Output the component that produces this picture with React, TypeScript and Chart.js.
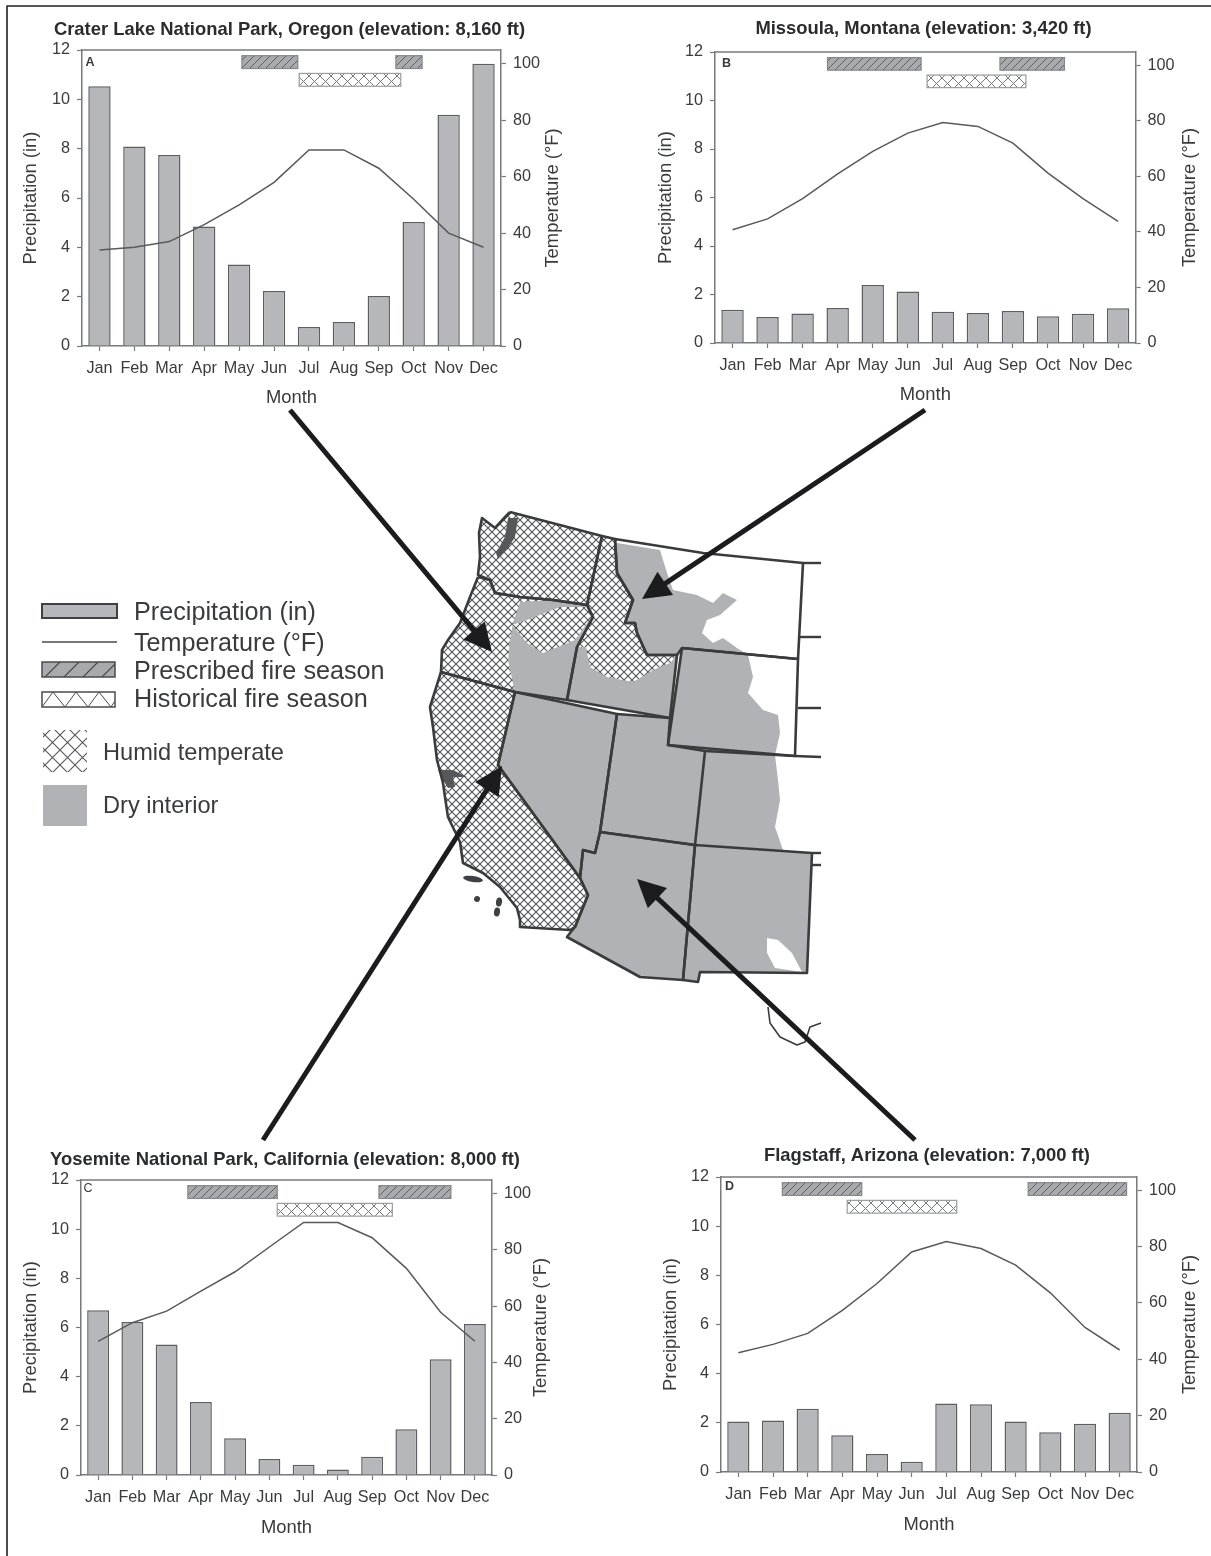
import React, { useEffect, useRef } from "react";
import { Chart, registerables } from "chart.js";

Chart.register(...registerables);

// ---------- chart data ----------
const months = ["Jan", "Feb", "Mar", "Apr", "May", "Jun", "Jul", "Aug", "Sep", "Oct", "Nov", "Dec"];
const precipTicks = [0, 2, 4, 6, 8, 10, 12];
const tempTicks = [0, 20, 40, 60, 80, 100];

const precipCrater = [10.53, 8.09, 7.74, 4.84, 3.3, 2.23, 0.77, 0.97, 2.03, 5.03, 9.38, 11.44];
const tempCrater = [34, 35, 37, 43, 50, 58, 69.5, 69.5, 63, 52, 40, 35];
const precipMissoula = [1.37, 1.07, 1.22, 1.44, 2.39, 2.12, 1.29, 1.24, 1.32, 1.1, 1.21, 1.43];
const tempMissoula = [40.8, 44.7, 52, 60.9, 69, 75.6, 79.4, 78, 72, 61.2, 52, 43.8];
const precipYosemite = [6.7, 6.22, 5.31, 2.97, 1.49, 0.65, 0.42, 0.22, 0.74, 1.86, 4.71, 6.14];
const tempYosemite = [47.5, 54.1, 58.2, 65.3, 72.2, 81, 89.7, 89.7, 84.3, 73.4, 57.8, 47.5];
const precipFlagstaff = [2.05, 2.1, 2.57, 1.5, 0.73, 0.42, 2.79, 2.76, 2.05, 1.62, 1.96, 2.41];
const tempFlagstaff = [42.3, 45.3, 49.2, 57.4, 66.9, 78.1, 81.8, 79.3, 73.4, 63.6, 51.3, 43.3];

// fire seasons: [start, end] in month-axis units (0 = Jan)
const prescribedCrater = [[4.08, 5.68], [8.49, 9.24]];
const historicalCrater = [[5.72, 8.63]];
const prescribedMissoula = [[2.71, 5.38], [7.63, 9.47]];
const historicalMissoula = [[5.55, 8.37]];
const prescribedYosemite = [[2.62, 5.23], [8.2, 10.3]];
const historicalYosemite = [[5.23, 8.59]];
const prescribedFlagstaff = [[1.27, 3.56], [8.36, 11.2]];
const historicalFlagstaff = [[3.14, 6.3]];

const prescribedBand = [11.25, 11.77];
const historicalBand = [10.53, 11.05];

// ---------- map data (page-scaled map units) ----------
const washington = [[510, 512], [602, 536], [587, 605], [553, 600], [520, 597], [495, 593], [490, 580], [478, 575], [480, 557], [479, 533], [482, 518], [495, 528], [507, 515]];
const oregon = [[478, 577], [490, 580], [495, 593], [520, 597], [553, 600], [587, 605], [593, 617], [577, 647], [567, 700], [515, 692], [441, 672], [442, 650], [448, 640], [460, 623], [470, 597]];
const idaho = [[602, 536], [615, 539], [617, 573], [633, 600], [625, 623], [635, 623], [637, 633], [647, 655], [677, 655], [670, 718], [567, 700], [577, 647], [593, 617], [587, 605]];
const montana = [[615, 539], [703, 553], [803, 563], [798, 659], [682, 648], [677, 655], [647, 655], [637, 633], [635, 623], [625, 623], [633, 600], [617, 573]];
const wyoming = [[682, 648], [798, 659], [795, 756], [668, 745]];
const nevada = [[515, 692], [617, 714], [600, 832], [595, 853], [583, 850], [580, 878], [498, 765]];
const utah = [[617, 714], [670, 718], [668, 745], [705, 751], [695, 845], [600, 832]];
const colorado = [[705, 751], [795, 756]];
const arizona = [[600, 832], [695, 845], [683, 980], [640, 977], [567, 937], [570, 933], [575, 927], [588, 895], [580, 878], [583, 850], [595, 853]];
const newMexico = [[695, 845], [812, 853], [807, 973], [700, 972], [698, 982], [683, 980]];
const california = [[441, 672], [515, 692], [498, 765], [580, 878], [588, 895], [575, 927], [570, 930], [520, 927], [520, 920], [517, 908], [500, 887], [483, 873], [463, 863], [460, 842], [448, 817], [445, 797], [443, 783], [437, 760], [433, 727], [430, 707]];
const stubs = [
  [[803, 563], [821, 563]],
  [[800, 637], [821, 637]],
  [[798, 708], [821, 708]],
  [[795, 756], [821, 757]],
  [[812, 853], [821, 853]],
  [[812, 865], [821, 865]],
];
const texasCoast = [[768, 1007], [770, 1023], [780, 1037], [797, 1045], [805, 1042], [810, 1027], [821, 1023]];

const dryOregon = [[515, 692], [508, 660], [510, 640], [513, 623], [520, 602], [560, 600], [587, 605], [593, 617], [577, 647], [567, 700]];
const humidBlueMountains = [[512, 625], [527, 620], [560, 607], [587, 607], [593, 615], [575, 640], [543, 653], [527, 643]];
const dryIdaho = [[670, 663], [653, 670], [633, 682], [607, 677], [590, 667], [586, 647], [577, 647], [567, 700], [670, 718], [677, 655]];
const dryMontana = [[617, 543], [660, 550], [667, 573], [673, 590], [697, 595], [713, 603], [723, 593], [737, 600], [720, 615], [707, 620], [702, 633], [713, 643], [723, 638], [737, 648], [748, 655], [682, 648], [678, 655], [647, 655], [637, 633], [635, 623], [625, 623], [633, 600], [617, 573]];
const dryInterior = [[515, 692], [617, 714], [670, 718], [682, 648], [748, 655], [753, 677], [748, 693], [763, 710], [778, 715], [780, 733], [775, 755], [778, 780], [780, 800], [775, 827], [783, 850], [812, 853], [807, 973], [700, 972], [698, 982], [683, 980], [640, 977], [567, 937], [575, 927], [588, 895], [580, 878], [498, 765]];
const whiteNewMexico = [[767, 938], [778, 940], [792, 953], [802, 972], [775, 968], [767, 953]];
const pugetSound = [[508, 518], [518, 518], [515, 537], [508, 548], [498, 559], [496, 553], [505, 537]];
const sfBay = [[438, 770], [453, 770], [467, 777], [453, 777], [455, 787], [448, 788], [443, 780]];
const islands = [[473, 879, 10, 3], [477, 899, 3, 3], [499, 902, 3, 4.5], [497, 912, 3, 4.5]];

const arrowTails = [[290, 410], [925, 410], [263, 1140], [915, 1140]];
const arrowTips = [[492, 652], [642, 599], [502, 766], [637, 879]];
const frameLine = [[1211, 6], [7, 6], [7, 1556]];

const legendLabels = ["Precipitation (in)", "Temperature (°F)", "Prescribed fire season", "Historical fire season"];
const regionLabels = ["Humid temperate", "Dry interior"];

// ---------- styles ----------
const FONT = '"Liberation Sans", Arial, sans-serif';
const TEXT = "#3a3b3d";
const AXIS = "#77797c";
const BAR = "#b6b7ba";
const DRY = "#b0b2b5";

function makeTile(size: number, draw: (c: CanvasRenderingContext2D, s: number) => void) {
  const t = document.createElement("canvas");
  t.width = size;
  t.height = size;
  const c = t.getContext("2d")!;
  draw(c, size);
  return t;
}
function diagonals(c: CanvasRenderingContext2D, s: number, up: boolean, down: boolean) {
  c.beginPath();
  if (up) {
    c.moveTo(-1, s + 1); c.lineTo(s + 1, -1);
    c.moveTo(-s / 2 - 1, s / 2 + 1); c.lineTo(s / 2 + 1, -s / 2 - 1);
    c.moveTo(s / 2 - 1, s + s / 2 + 1); c.lineTo(s + s / 2 + 1, s / 2 - 1);
  }
  if (down) {
    c.moveTo(-1, -1); c.lineTo(s + 1, s + 1);
    c.moveTo(-s / 2 - 1, s / 2 - 1); c.lineTo(s / 2 + 1, s + s / 2 + 1);
    c.moveTo(s / 2 - 1, -s / 2 - 1); c.lineTo(s + s / 2 + 1, s / 2 + 1);
  }
  c.stroke();
}
function hatchPattern(ctx: CanvasRenderingContext2D, size: number, bg: string, fg: string, lw: number, up: boolean, down: boolean) {
  const tile = makeTile(size, (c, s) => {
    c.fillStyle = bg;
    c.fillRect(0, 0, s, s);
    c.strokeStyle = fg;
    c.lineWidth = lw;
    diagonals(c, s, up, down);
  });
  return ctx.createPattern(tile, "repeat")!;
}

type Panel = {
  title: string; letter: string; precip: number[]; temp: number[];
  prescribed: number[][]; historical: number[][];
  plotL: number; plotR: number; plotT: number; plotB: number;
  titleCx: number; titleGap: number; leftTitleX: number; rightTitleX: number; monthGap: number;
  tempMax: number; letterX: number; letterY: number; letterBold: boolean;
};

const panels: Panel[] = [
  {
    title: "Crater Lake National Park, Oregon (elevation: 8,160 ft)", letter: "A",
    precip: precipCrater, temp: tempCrater, prescribed: prescribedCrater, historical: historicalCrater,
    plotL: 82, plotR: 501, plotT: 49.5, plotB: 345, titleCx: 289.5, titleGap: 20.5, leftTitleX: 31, rightTitleX: 553, monthGap: 52,
    tempMax: 104.9, letterX: 90, letterY: 62, letterBold: true,
  },
  {
    title: "Missoula, Montana (elevation: 3,420 ft)", letter: "B",
    precip: precipMissoula, temp: tempMissoula, prescribed: prescribedMissoula, historical: historicalMissoula,
    plotL: 715, plotR: 1136, plotT: 52, plotB: 343.3, titleCx: 923.7, titleGap: 23, leftTitleX: 665.5, rightTitleX: 1190, monthGap: 52,
    tempMax: 104.8, letterX: 726.5, letterY: 64, letterBold: true,
  },
  {
    title: "Yosemite National Park, California (elevation: 8,000 ft)", letter: "C",
    precip: precipYosemite, temp: tempYosemite, prescribed: prescribedYosemite, historical: historicalYosemite,
    plotL: 81, plotR: 492, plotT: 1179.7, plotB: 1475, titleCx: 285, titleGap: 20.5, leftTitleX: 31, rightTitleX: 541, monthGap: 53,
    tempMax: 104.8, letterX: 88, letterY: 1188, letterBold: false,
  },
  {
    title: "Flagstaff, Arizona (elevation: 7,000 ft)", letter: "D",
    precip: precipFlagstaff, temp: tempFlagstaff, prescribed: prescribedFlagstaff, historical: historicalFlagstaff,
    plotL: 721, plotR: 1137, plotT: 1176.7, plotB: 1472, titleCx: 927, titleGap: 21, leftTitleX: 671, rightTitleX: 1190, monthGap: 52.5,
    tempMax: 104.7, letterX: 729.5, letterY: 1186, letterBold: true,
  },
];

const LEFT_W = 70;
const TOP_H = 40;
const BOTTOM_H = 66;
const titleSize = 18.4;
const axisTitleSize = 18.4;
const tickSize = 16.2;

function panelGeometry(p: Panel) {
  const left = p.plotL - LEFT_W;
  const right = 2 * p.titleCx - left;
  return { left, top: p.plotT - TOP_H, width: right - left, height: TOP_H + (p.plotB - p.plotT) + BOTTOM_H, rightW: right - p.plotR };
}

function createPanel(canvas: HTMLCanvasElement, p: Panel) {
  const g = panelGeometry(p);
  canvas.width = Math.round(g.width);
  canvas.height = Math.round(g.height);
  const ctx0 = canvas.getContext("2d")!;
  const prescribedFill = hatchPattern(ctx0, 8, "#a9aaad", "#5c5e61", 1, true, false);
  const historicalFill = hatchPattern(ctx0, 11, "#ffffff", "#77797c", 1, true, true);

  const seasonPlugin = {
    id: "seasons",
    afterDatasetsDraw(chart: any) {
      const { ctx, scales, chartArea } = chart;
      const x = scales.x, y = scales.y;
      const drawBand = (ranges: number[][], band: number[], fill: CanvasPattern, stroke: string) => {
        ranges.forEach(([a, b]) => {
          const xa = x.getPixelForValue(a), xb = x.getPixelForValue(b);
          const yt = y.getPixelForValue(band[1]), yb = y.getPixelForValue(band[0]);
          ctx.save();
          ctx.fillStyle = fill;
          ctx.fillRect(xa, yt, xb - xa, yb - yt);
          ctx.strokeStyle = stroke;
          ctx.lineWidth = 1.2;
          ctx.strokeRect(xa, yt, xb - xa, yb - yt);
          ctx.restore();
        });
      };
      drawBand(p.prescribed, prescribedBand, prescribedFill, "#85878a");
      drawBand(p.historical, historicalBand, historicalFill, "#9a9c9f");

      ctx.save();
      // top of the plot frame
      ctx.strokeStyle = AXIS;
      ctx.lineWidth = 1.5;
      ctx.beginPath();
      ctx.moveTo(chartArea.left, chartArea.top);
      ctx.lineTo(chartArea.right, chartArea.top);
      ctx.stroke();
      // panel letter
      ctx.fillStyle = TEXT;
      ctx.font = `${p.letterBold ? "bold " : ""}12.5px ${FONT}`;
      ctx.textAlign = "center";
      ctx.textBaseline = "middle";
      ctx.fillText(p.letter, p.letterX - g.left, p.letterY - g.top);
      // right axis title reads bottom-to-top, as on the left
      ctx.translate(p.rightTitleX - g.left, (chartArea.top + chartArea.bottom) / 2);
      ctx.rotate(-Math.PI / 2);
      ctx.font = `${axisTitleSize}px ${FONT}`;
      ctx.fillText("Temperature (°F)", 0, 0);
      ctx.restore();
    },
  };

  const lineH = titleSize * 1.2;
  const titlePadTop = TOP_H - lineH / 2 - p.titleGap;
  const titlePadBottom = TOP_H - lineH - titlePadTop;
  const axisLineH = axisTitleSize * 1.2;

  return new Chart(canvas, {
    type: "bar",
    data: {
      labels: months,
      datasets: [
        {
          type: "line", label: "Temperature (°F)", data: p.temp, yAxisID: "yT", order: 0,
          borderColor: "#58595c", borderWidth: 1.5, pointRadius: 0, tension: 0,
        },
        {
          type: "bar", label: "Precipitation (in)", data: p.precip, yAxisID: "y", order: 1,
          backgroundColor: BAR, borderColor: "#5c5e61", borderWidth: 1.5,
          categoryPercentage: 1, barPercentage: 0.64,
        },
      ],
    } as any,
    options: {
      responsive: false,
      animation: false,
      devicePixelRatio: 1,
      layout: { padding: 0 },
      plugins: {
        legend: { display: false },
        tooltip: { enabled: false },
        title: {
          display: true, text: p.title, color: "#2b2c2e",
          font: { family: FONT, size: titleSize, weight: "bold", lineHeight: 1.2 },
          padding: { top: titlePadTop, bottom: titlePadBottom },
        },
      },
      scales: {
        x: {
          offset: true,
          grid: { offset: false, drawOnChartArea: false, tickLength: 5, tickColor: AXIS, tickWidth: 1.2 },
          border: { color: AXIS, width: 1.5 },
          ticks: { color: TEXT, font: { family: FONT, size: tickSize }, padding: 8, autoSkip: false, maxRotation: 0 },
          title: {
            display: true, text: "Month", color: TEXT,
            font: { family: FONT, size: axisTitleSize, lineHeight: 1.2 },
            padding: { top: 0, bottom: BOTTOM_H - p.monthGap - axisLineH / 2 },
          },
          afterFit: (s: any) => { s.height = BOTTOM_H; },
        },
        y: {
          position: "left", min: 0, max: 12,
          afterBuildTicks: (s: any) => { s.ticks = precipTicks.map((value) => ({ value })); },
          grid: { drawOnChartArea: false, tickLength: 5, tickColor: AXIS, tickWidth: 1.2 },
          border: { color: AXIS, width: 1.5 },
          ticks: { color: TEXT, font: { family: FONT, size: tickSize }, padding: 7 },
          title: {
            display: true, text: "Precipitation (in)", color: TEXT,
            font: { family: FONT, size: axisTitleSize, lineHeight: 1.2 },
            padding: { top: p.leftTitleX - g.left - axisLineH / 2, bottom: 0 },
          },
          afterFit: (s: any) => { s.width = LEFT_W; },
        },
        yT: {
          position: "right", min: 0, max: p.tempMax,
          afterBuildTicks: (s: any) => { s.ticks = tempTicks.map((value) => ({ value })); },
          grid: { drawOnChartArea: false, tickLength: 5, tickColor: AXIS, tickWidth: 1.2 },
          border: { color: AXIS, width: 1.5 },
          ticks: { color: TEXT, font: { family: FONT, size: tickSize }, padding: 7 },
          afterFit: (s: any) => { s.width = g.rightW; },
        },
      },
    } as any,
    plugins: [seasonPlugin],
  });
}

function tracePoly(ctx: CanvasRenderingContext2D, sx: any, sy: any, pts: number[][]) {
  ctx.beginPath();
  pts.forEach(([x, y], i) => {
    const px = sx.getPixelForValue(x), py = sy.getPixelForValue(y);
    if (i === 0) ctx.moveTo(px, py); else ctx.lineTo(px, py);
  });
  ctx.closePath();
}

function outlineDataset(points: number[][], width: number, color: string, close = true) {
  const pts = close ? [...points, points[0]] : points;
  return {
    data: pts.map(([x, y]) => ({ x, y })),
    showLine: true, pointRadius: 0, borderColor: color, borderWidth: width, tension: 0,
    fill: false, clip: false, borderJoinStyle: "round",
  };
}

function shaftEnd(tail: number[], tip: number[]) {
  const len = Math.hypot(tip[0] - tail[0], tip[1] - tail[1]);
  const t = (len - 20) / len;
  return [tail[0] + (tip[0] - tail[0]) * t, tail[1] + (tip[1] - tail[1]) * t];
}

function createMap(canvas: HTMLCanvasElement) {
  canvas.width = 1211;
  canvas.height = 1556;
  const ctx0 = canvas.getContext("2d")!;
  const humidMap = hatchPattern(ctx0, 8, "#ffffff", "#505154", 1.05, true, true);
  const humidKey = hatchPattern(ctx0, 15, "#ffffff", "#55575a", 1.1, true, true);
  const prescribedKey = hatchPattern(ctx0, 19, "#a9aaad", "#3f4043", 1.2, true, false);

  const mapPlugin = {
    id: "regions",
    beforeDatasetsDraw(chart: any) {
      const { ctx, scales } = chart;
      const sx = scales.x, sy = scales.y;
      const fillPoly = (pts: number[][], fill: any) => {
        tracePoly(ctx, sx, sy, pts);
        ctx.fillStyle = fill;
        ctx.fill();
      };
      ctx.save();
      [washington, oregon, idaho, california].forEach((s) => fillPoly(s, humidMap));
      [dryOregon, dryIdaho, dryMontana, dryInterior].forEach((s) => fillPoly(s, DRY));
      fillPoly(humidBlueMountains, humidMap);
      fillPoly(whiteNewMexico, "#ffffff");
      fillPoly(pugetSound, "#55575a");
      fillPoly(sfBay, "#55575a");
      islands.forEach(([x, y, rx, ry]) => {
        ctx.beginPath();
        ctx.ellipse(sx.getPixelForValue(x), sy.getPixelForValue(y), rx, ry, 0.15, 0, Math.PI * 2);
        ctx.fillStyle = "#3f4043";
        ctx.fill();
      });
      ctx.restore();
    },
    afterDatasetsDraw(chart: any) {
      const { ctx, scales } = chart;
      const sx = scales.x, sy = scales.y;
      ctx.save();
      // arrow heads
      arrowTails.forEach((t, i) => {
        const tip = arrowTips[i];
        const dx = tip[0] - t[0], dy = tip[1] - t[1];
        const len = Math.hypot(dx, dy);
        const ux = dx / len, uy = dy / len;
        const bx = tip[0] - ux * 28, by = tip[1] - uy * 28;
        const head = [tip, [bx - uy * 14, by + ux * 14], [bx + uy * 14, by - ux * 14]];
        tracePoly(ctx, sx, sy, head);
        ctx.fillStyle = "#1c1c1e";
        ctx.fill();
      });
      // key
      const keyText = (s: string, x: number, y: number, size: number) => {
        ctx.fillStyle = TEXT;
        ctx.font = `${size}px ${FONT}`;
        ctx.textAlign = "left";
        ctx.textBaseline = "middle";
        ctx.fillText(s, x, y);
      };
      ctx.fillStyle = BAR;
      ctx.fillRect(42, 604, 75, 14);
      ctx.strokeStyle = "#3f4043";
      ctx.lineWidth = 2;
      ctx.strokeRect(42, 604, 75, 14);
      ctx.lineWidth = 1.5;
      ctx.strokeStyle = "#4a4b4e";
      ctx.beginPath();
      ctx.moveTo(42, 642);
      ctx.lineTo(117, 642);
      ctx.stroke();
      ctx.fillStyle = prescribedKey;
      ctx.fillRect(42, 662, 73, 15);
      ctx.strokeRect(42, 662, 73, 15);
      ctx.fillStyle = "#ffffff";
      ctx.fillRect(42, 692, 73, 15);
      ctx.strokeRect(42, 692, 73, 15);
      ctx.beginPath();
      [42, 65, 88].forEach((x) => {
        ctx.moveTo(x, 707);
        ctx.lineTo(x + 11, 692);
        ctx.lineTo(x + 23, 707);
      });
      ctx.moveTo(111, 707);
      ctx.lineTo(115, 701);
      ctx.lineWidth = 1;
      ctx.stroke();
      ctx.fillStyle = humidKey;
      ctx.fillRect(43, 730, 44, 42);
      ctx.fillStyle = DRY;
      ctx.fillRect(43, 785, 44, 41);
      const ys = [613, 644, 672, 700];
      legendLabels.forEach((s, i) => keyText(s, 134, ys[i], 25.2));
      keyText(regionLabels[0], 103, 753, 23.6);
      keyText(regionLabels[1], 103, 806, 23.6);
      ctx.restore();
    },
  };

  const stateLines = [washington, oregon, idaho, montana, wyoming, nevada, utah, arizona, newMexico, california]
    .map((s) => outlineDataset(s, 2.6, "#3a3b3d"));
  const openLines = [colorado, ...stubs].map((s) => outlineDataset(s, 2.4, "#3a3b3d", false));
  const shafts = arrowTails.map((t, i) => outlineDataset([t, shaftEnd(t, arrowTips[i])], 5, "#1c1c1e", false));

  return new Chart(canvas, {
    type: "scatter",
    data: {
      datasets: [
        ...shafts,
        outlineDataset(frameLine, 1.6, "#1f1f21", false),
        outlineDataset(texasCoast, 1.6, "#3a3b3d", false),
        ...openLines,
        ...stateLines,
      ],
    } as any,
    options: {
      responsive: false,
      animation: false,
      devicePixelRatio: 1,
      layout: { padding: 0 },
      plugins: { legend: { display: false }, tooltip: { enabled: false } },
      scales: {
        x: { type: "linear", display: false, min: 0, max: 1211 },
        y: { type: "linear", display: false, min: 0, max: 1556, reverse: true },
      },
    } as any,
    plugins: [mapPlugin],
  });
}

const baseStyle: React.CSSProperties = { position: "absolute", display: "block", filter: "blur(0.6px)" };

export default function App() {
  const mapRef = useRef<HTMLCanvasElement | null>(null);
  const panelRefs = useRef<(HTMLCanvasElement | null)[]>([]);

  useEffect(() => {
    const charts = [createMap(mapRef.current!)];
    panels.forEach((p, i) => charts.push(createPanel(panelRefs.current[i]!, p)));
    return () => charts.forEach((c) => c.destroy());
  }, []);

  return (
    <div>
      <canvas ref={mapRef} style={{ ...baseStyle, left: 0, top: 0, width: 1211, height: 1556 }} />
      {panels.map((p, i) => {
        const g = panelGeometry(p);
        return (
          <canvas
            key={p.letter}
            ref={(el) => { panelRefs.current[i] = el; }}
            style={{ ...baseStyle, left: g.left, top: g.top, width: Math.round(g.width), height: Math.round(g.height) }}
          />
        );
      })}
    </div>
  );
}
